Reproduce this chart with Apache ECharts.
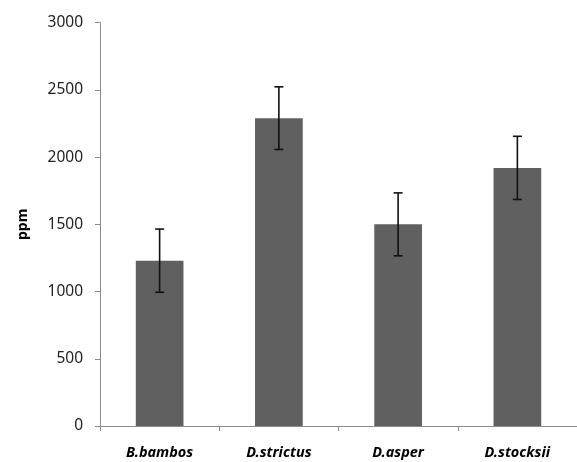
<!DOCTYPE html>
<html><head><meta charset="utf-8">
<script src="https://cdn.jsdelivr.net/npm/echarts@6/dist/echarts.min.js"></script>
<style>html,body{margin:0;padding:0;background:#fff}#c{width:577px;height:462px}</style>
</head><body><div id="c"></div>
<script>
const categories = ['B.bambos', 'D.strictus', 'D.asper', 'D.stocksii'];
const means = [1230, 2290, 1500, 1920];
const errors = [235, 233, 234, 235];
const yTicks = [0, 500, 1000, 1500, 2000, 2500, 3000];

const chart = echarts.init(document.getElementById('c'));
const errData = means.map((m, i) => [i, m - errors[i], m + errors[i]]);
chart.setOption({
  animation: false,
  grid: { left: 100, top: 22.7, width: 486, height: 403.3, containLabel: false },
  xAxis: {
    type: 'category', data: categories,
    axisLine: { lineStyle: { color: '#8c8c8c', width: 1 } },
    axisTick: { show: true, length: 5, alignWithLabel: false, lineStyle: { color: '#8c8c8c' } },
    axisLabel: { margin: 19, color: '#000', fontFamily: 'Noto Sans', fontSize: 14.5, fontWeight: 'bold', fontStyle: 'italic' }
  },
  yAxis: {
    type: 'value', min: yTicks[0], max: yTicks[yTicks.length - 1], interval: 500,
    name: 'ppm', nameLocation: 'middle', nameGap: 70,
    nameTextStyle: { fontFamily: 'Noto Sans', fontSize: 14, fontWeight: 'bold', color: '#000' },
    axisLine: { show: true, lineStyle: { color: '#8c8c8c', width: 1 } },
    axisTick: { show: true, length: 5, lineStyle: { color: '#8c8c8c' } },
    splitLine: { show: false },
    axisLabel: { margin: 17, color: '#222', fontFamily: 'Noto Sans', fontSize: 15.5, formatter: v => String(v) }
  },
  series: [
    { type: 'bar', data: means, barWidth: '40%', itemStyle: { color: '#606060' } },
    {
      type: 'custom', data: errData, z: 10,
      renderItem: function (params, api) {
        const x = api.value(0);
        const lo = api.coord([x, api.value(1)]);
        const hi = api.coord([x, api.value(2)]);
        const hw = 4.5;
        const st = { stroke: '#111', lineWidth: 1.6 };
        return { type: 'group', children: [
          { type: 'line', shape: { x1: lo[0], y1: lo[1], x2: hi[0], y2: hi[1] }, style: st },
          { type: 'line', shape: { x1: lo[0] - hw, y1: lo[1], x2: lo[0] + hw, y2: lo[1] }, style: st },
          { type: 'line', shape: { x1: hi[0] - hw, y1: hi[1], x2: hi[0] + hw, y2: hi[1] }, style: st }
        ]};
      }
    }
  ]
});
</script></body></html>
